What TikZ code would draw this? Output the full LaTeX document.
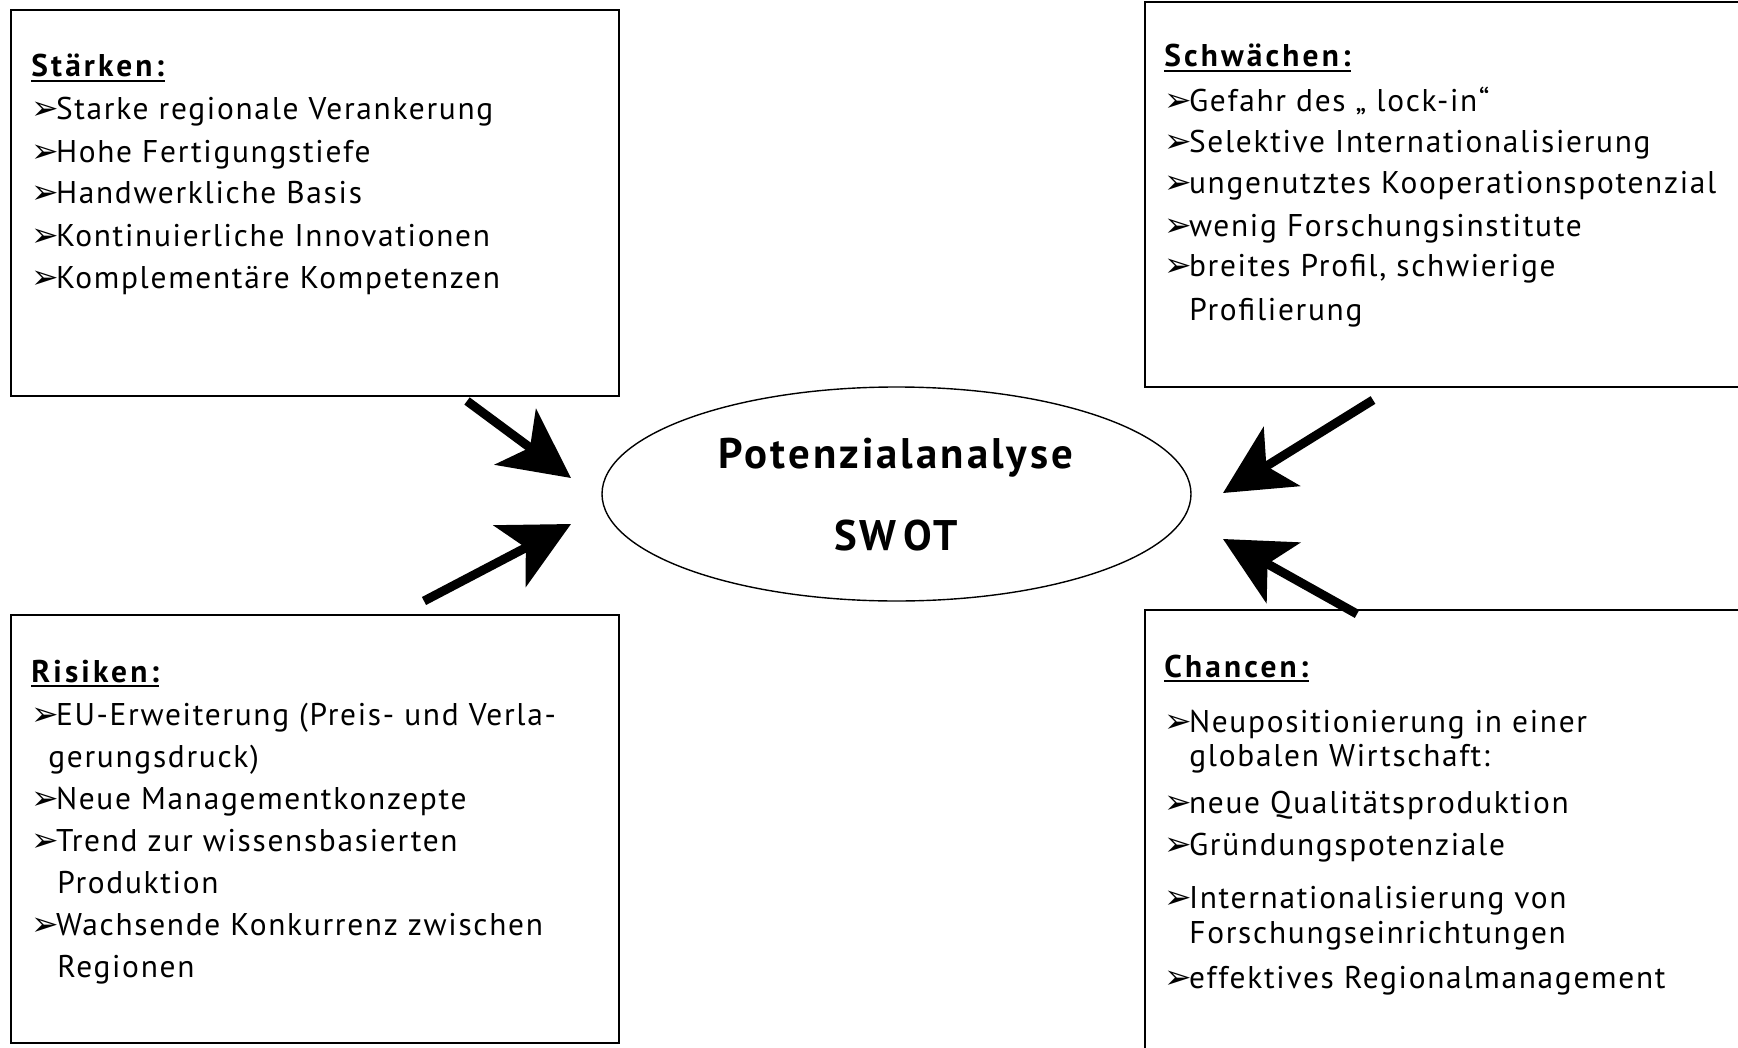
\documentclass[tikz,border=0pt]{standalone}
\usepackage{fontspec}
\setmainfont{PT Sans}[LetterSpace=5.4]
\newfontfamily\headfont{PT Sans}[LetterSpace=10]
\newfontfamily\titlefont{PT Sans}[LetterSpace=7]
\newfontfamily\dingfont{DejaVu Sans}
\usetikzlibrary{arrows.meta,shapes.geometric}

% bullet glyph used in front of every list entry
\newcommand\bul{\makebox[12.3pt][l]{\dingfont\fontsize{16.5pt}{16.5pt}\selectfont ➢}}

\tikzset{
  panel/.style={draw, line width=1pt, inner sep=0pt, anchor=north west},
  itemtxt/.style={anchor=base west, inner sep=0pt, font=\fontsize{15.7pt}{19pt}\selectfont},
  headtxt/.style={anchor=base west, inner sep=0pt, font=\headfont\bfseries\fontsize{15.7pt}{19pt}\selectfont},
  titletxt/.style={anchor=base, inner sep=0pt, font=\titlefont\bfseries\fontsize{21.4pt}{25pt}\selectfont},
  ul/.style={line width=1.3pt},
  bigarrow/.style={line width=4.5pt, -{Stealth[length=34.5pt, width=34.5pt, inset=9pt]}}
}

\begin{document}
\begin{tikzpicture}[x=0.5pt, y=-0.5pt]
\useasboundingbox (0,0) rectangle (1738,1048);
\clip (0,0) rectangle (1738,1048);
\fill[white] (0,0) rectangle (1738,1048);

% ---- four panels -------------------------------------------------
\node[panel, minimum width=304pt, minimum height=193pt] (S) at (10,9) {};
\node[panel, minimum width=308pt, minimum height=192.25pt] (W) at (1143.5,1.5) {};
\node[panel, minimum width=304pt, minimum height=214pt] (T) at (10,614) {};
\node[panel, minimum width=308pt, minimum height=225.5pt] (O) at (1143.5,609) {};

% ---- central ellipse ---------------------------------------------
\node[draw, ellipse, line width=0.7pt, inner sep=0pt,
      minimum width=294.5pt, minimum height=107pt] (E) at (896.5,494) {};
\node[titletxt] (E1) at (896,468) {Potenzialanalyse};
\node[titletxt] (E2) at (896,550) {SW\,OT};

% ---- Stärken ------------------------------------------------------
\node[headtxt] (Sh) at (31,77) {Stärken:};
\draw[ul] ([yshift=-2pt]Sh.base west) -- ([yshift=-2pt]Sh.base east);
\node[itemtxt] (S1) at (31,120) {\bul Starke regionale Verankerung};
\node[itemtxt] (S2) at (31,163) {\bul Hohe Fertigungstiefe};
\node[itemtxt] (S3) at (31,204) {\bul Handwerkliche Basis};
\node[itemtxt] (S4) at (31,247) {\bul Kontinuierliche Innovationen};
\node[itemtxt] (S5) at (31,288) {\bul Komplementäre Kompetenzen};

% ---- Schwächen ----------------------------------------------------
\node[headtxt] (Wh) at (1164,67) {Schwächen:};
\draw[ul] ([yshift=-2pt]Wh.base west) -- ([yshift=-2pt]Wh.base east);
\node[itemtxt] (W1) at (1164,112) {\bul Gefahr des „ lock-in“};
\node[itemtxt] (W2) at (1164,153) {\bul Selektive Internationalisierung};
\node[itemtxt] (W3) at (1164,194) {\bul ungenutztes Kooperationspotenzial};
\node[itemtxt] (W4) at (1164,236) {\bul wenig Forschungsinstitute};
\node[itemtxt] (W5) at (1164,277) {\bul breites Profil, schwierige};
\node[itemtxt] (W6) at (1189,320) {Profilierung};

% ---- Risiken ------------------------------------------------------
\node[headtxt] (Th) at (31,682) {Risiken:};
\draw[ul] ([yshift=-2pt]Th.base west) -- ([yshift=-2pt]Th.base east);
\node[itemtxt] (T1) at (31,725) {\bul EU-Erweiterung (Preis- und  Verla-};
\node[itemtxt] (T2) at (48,767) {gerungsdruck)};
\node[itemtxt] (T3) at (31,809) {\bul Neue Managementkonzepte};
\node[itemtxt] (T4) at (31,851) {\bul Trend zur wissensbasierten};
\node[itemtxt] (T5) at (57,893) {Produktion};
\node[itemtxt] (T6) at (31,935) {\bul Wachsende Konkurrenz zwischen};
\node[itemtxt] (T7) at (57,977) {Regionen};

% ---- Chancen ------------------------------------------------------
\node[headtxt] (Oh) at (1164,677) {Chancen:};
\draw[ul] ([yshift=-2pt]Oh.base west) -- ([yshift=-2pt]Oh.base east);
\node[itemtxt] (O1) at (1164,732) {\bul Neupositionierung in einer};
\node[itemtxt] (O2) at (1189,766) {globalen Wirtschaft:};
\node[itemtxt] (O3) at (1164,813) {\bul neue Qualitätsproduktion};
\node[itemtxt] (O4) at (1164,855) {\bul Gründungspotenziale};
\node[itemtxt] (O5) at (1164,908) {\bul Internationalisierung von};
\node[itemtxt] (O6) at (1189,943) {Forschungseinrichtungen};
\node[itemtxt] (O7) at (1164,988) {\bul effektives Regionalmanagement};

% ---- arrows pointing at the ellipse -------------------------------
\coordinate (sa) at (467,401);  \coordinate (sb) at (571,478);
\coordinate (ta) at (424,601);  \coordinate (tb) at (571,524);
\coordinate (wa) at (1373,400); \coordinate (wb) at (1223,493);
\coordinate (oa) at (1357,614); \coordinate (ob) at (1223,539);
\draw[bigarrow] (sa) -- (sb);
\draw[bigarrow] (ta) -- (tb);
\draw[bigarrow] (wa) -- (wb);
\draw[bigarrow] (oa) -- (ob);
\end{tikzpicture}
\end{document}
